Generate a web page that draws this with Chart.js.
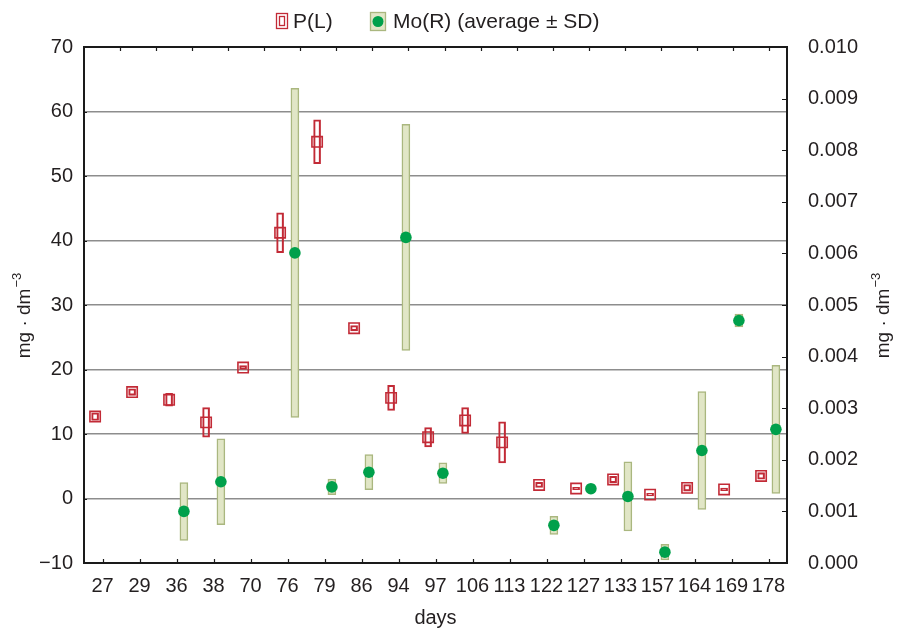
<!DOCTYPE html>
<html>
<head>
<meta charset="utf-8">
<script src="https://cdn.jsdelivr.net/npm/chart.js@4.4.0/dist/chart.umd.min.js"></script>
<style>
  html, body { margin: 0; padding: 0; background: #fff; }
  #wrap { width: 898px; height: 628px; }
</style>
</head>
<body>
<div id="wrap"><canvas id="chart"></canvas></div>
<script>
const days = ["27", "29", "36", "38", "70", "76", "79", "86", "94", "97", "106", "113", "122", "127", "133", "157", "164", "169", "178"];

// P(L) - left axis, mg/dm3 (average and SD)
const pMean = [12.7, 16.5, 15.3, 11.8, 20.3, 41.2, 55.3, 26.4, 15.6, 9.5, 12.1, 8.7, 2.1, 1.55, 2.95, 0.6, 1.65, 1.4, 3.5];
const pSd = [0.6, 0.5, 1.0, 2.3, 0.3, 3.1, 3.4, 0.4, 1.95, 1.5, 2.0, 3.2, 0.4, 0.2, 0.5, 0.2, 0.5, 0.2, 0.5];

// Mo(R) - right axis, mg/dm3 (average and SD)
const moMean = [null, null, 0.00100, 0.001575, null, 0.00601, 0.001475, 0.00176, 0.00631, 0.00174, null, null, 0.00073, 0.00144, 0.00129, 0.00021, 0.00218, 0.00470, 0.00259];
const moSd = [null, null, 0.00056, 0.00083, null, 0.00319, 0.00015, 0.00034, 0.00219, 0.00020, null, null, 0.000175, 0, 0.00067, 0.00015, 0.00114, 0.000125, 0.00124];

const leftMin = -10, leftMax = 70, leftStep = 10;
const rightMin = 0, rightMax = 0.010, rightStep = 0.001;

const FONT = "'Liberation Sans', Arial, sans-serif";
const TEXT = "#231f20";
const RED = "#c22a36";
const GREEN = "#00a04b";
const OLIVE_FILL = "#e1e6c6";
const OLIVE_LINE = "#aab77f";
const SHIFT = 0.2; // P left of the tick, Mo right of it

const pRange = [], pPts = [], moRange = [], moPts = [];
days.forEach((d, i) => {
  pRange.push({ x: i - SHIFT, y: [pMean[i] - pSd[i], pMean[i] + pSd[i]] });
  pPts.push({ x: i - SHIFT, y: pMean[i] });
  if (moMean[i] !== null) {
    moRange.push({ x: i + SHIFT, y: [moMean[i] - moSd[i], moMean[i] + moSd[i]] });
    moPts.push({ x: i + SHIFT, y: moMean[i] });
  }
});

function drawUnit(ctx, x, y) {
  // "mg · dm-3" written upwards
  ctx.save();
  ctx.translate(x, y);
  ctx.rotate(-Math.PI / 2);
  ctx.fillStyle = TEXT;
  ctx.textBaseline = "middle";
  const main = "mg \u00b7 dm";
  ctx.font = "19px " + FONT;
  const w1 = ctx.measureText(main).width;
  ctx.font = "13px " + FONT;
  const w2 = ctx.measureText("\u22123").width;
  const x0 = -(w1 + w2) / 2;
  ctx.font = "19px " + FONT;
  ctx.textAlign = "left";
  ctx.fillText(main, x0, 0);
  ctx.font = "13px " + FONT;
  ctx.fillText("\u22123", x0 + w1 + 1, -8);
  ctx.restore();
}

const frame = {
  id: "frame",
  afterDraw(chart) {
    const { ctx, chartArea: a, scales } = chart;
    ctx.save();
    ctx.strokeStyle = "#1a1a1a";
    ctx.lineWidth = 1.2;
    ctx.beginPath();
    days.forEach((d, i) => {
      const x = Math.round(scales.x.getPixelForValue(i)) + 0.5;
      ctx.moveTo(x, a.bottom); ctx.lineTo(x, a.bottom - 4);
    });
    for (let k = 1; k <= 19; k++) {
      const x = Math.round(scales.x.getPixelForValue(-0.5 + k * 19 / 19.5)) + 0.5;
      ctx.moveTo(x, a.top); ctx.lineTo(x, a.top + 4);
    }
    for (let v = leftMin; v <= leftMax; v += leftStep) {
      const y = Math.round(scales.y.getPixelForValue(v)) + 0.5;
      ctx.moveTo(a.left, y); ctx.lineTo(a.left + 3, y);
    }
    for (let k = 0; k <= 10; k++) {
      const y = Math.round(scales.y1.getPixelForValue(k * rightStep)) + 0.5;
      ctx.moveTo(a.right, y); ctx.lineTo(a.right - 5, y);
    }
    ctx.stroke();
    ctx.lineWidth = 2;
    ctx.strokeStyle = "#1a1a1a";
    ctx.strokeRect(a.left, a.top, a.right - a.left, a.bottom - a.top);

    // axis titles
    drawUnit(ctx, 25, 316);
    drawUnit(ctx, 884, 316);
    ctx.fillStyle = TEXT;
    ctx.font = "20px " + FONT;
    ctx.textAlign = "center";
    ctx.textBaseline = "middle";
    ctx.fillText("days", (a.left + a.right) / 2, 618);

    // legend
    ctx.lineWidth = 1.3;
    ctx.strokeStyle = RED;
    ctx.strokeRect(276.5, 13.5, 11, 15);
    ctx.strokeRect(279.5, 16.5, 5, 9);
    ctx.fillStyle = OLIVE_FILL;
    ctx.fillRect(370, 12, 16, 19);
    ctx.strokeStyle = OLIVE_LINE;
    ctx.strokeRect(370.5, 12.5, 15, 18);
    ctx.fillStyle = GREEN;
    ctx.beginPath();
    ctx.arc(378, 21.5, 5.5, 0, Math.PI * 2);
    ctx.fill();
    ctx.fillStyle = TEXT;
    ctx.font = "21px " + FONT;
    ctx.textAlign = "left";
    ctx.fillText("P(L)", 293, 22);
    ctx.fillText("Mo(R) (average \u00b1 SD)", 393, 22);
    ctx.restore();
  }
};

new Chart(document.getElementById("chart"), {
  type: "bar",
  data: {
    datasets: [
      {
        type: "scatter",
        label: "P(L) average",
        data: pPts,
        yAxisID: "y",
        pointStyle: "rect",
        pointRadius: 7.3,
        pointBackgroundColor: "rgba(255,255,255,0)",
        pointBorderColor: RED,
        pointBorderWidth: 1.6,
        order: 0
      },
      {
        type: "scatter",
        label: "Mo(R) average",
        data: moPts,
        yAxisID: "y1",
        pointStyle: "circle",
        pointRadius: 5.8,
        pointBackgroundColor: GREEN,
        pointBorderColor: GREEN,
        pointBorderWidth: 0,
        order: 0
      },
      {
        label: "P(L) SD",
        data: pRange,
        yAxisID: "y",
        backgroundColor: "rgba(255,255,255,0)",
        borderColor: RED,
        borderWidth: 1.4,
        borderSkipped: false,
        barThickness: 7,
        grouped: false,
        order: 1
      },
      {
        label: "Mo(R) SD",
        data: moRange,
        yAxisID: "y1",
        backgroundColor: OLIVE_FILL,
        borderColor: OLIVE_LINE,
        borderWidth: 1.5,
        borderSkipped: false,
        barThickness: 8,
        grouped: false,
        order: 1
      }
    ]
  },
  options: {
    responsive: true,
    maintainAspectRatio: false,
    animation: false,
    layout: { padding: { top: 47, left: 0, right: 0, bottom: 0 } },
    plugins: {
      legend: { display: false },
      tooltip: { enabled: false }
    },
    scales: {
      x: {
        type: "linear",
        position: "bottom",
        min: -0.5,
        max: 18.5,
        offset: false,
        afterBuildTicks: (s) => { s.ticks = days.map((d, i) => ({ value: i })); },
        afterFit: (s) => { s.height = 65; },
        grid: { display: false },
        border: { display: false },
        ticks: {
          autoSkip: false,
          maxRotation: 0,
          padding: 3,
          color: TEXT,
          font: { family: FONT, size: 20 },
          callback: (v) => days[v]
        }
      },
      y: {
        position: "left",
        min: leftMin,
        max: leftMax,
        afterFit: (s) => { s.width = 84; },
        grid: {
          drawTicks: false,
          lineWidth: 1.5,
          color: (c) => (c.tick && (c.tick.value === leftMin || c.tick.value === leftMax)) ? "rgba(0,0,0,0)" : "#8d8d8d"
        },
        border: { display: false },
        ticks: {
          stepSize: leftStep,
          padding: 11,
          color: TEXT,
          font: { family: FONT, size: 20 },
          callback: (v) => String(v).replace("-", "\u2212")
        }
      },
      y1: {
        position: "right",
        min: rightMin,
        max: rightMax,
        afterFit: (s) => { s.width = 111; },
        grid: { display: false, drawOnChartArea: false },
        border: { display: false },
        ticks: {
          stepSize: rightStep,
          padding: 13,
          color: TEXT,
          font: { family: FONT, size: 20 },
          callback: (v) => v.toFixed(3)
        }
      }
    }
  },
  plugins: [frame]
});
</script>
</body>
</html>
